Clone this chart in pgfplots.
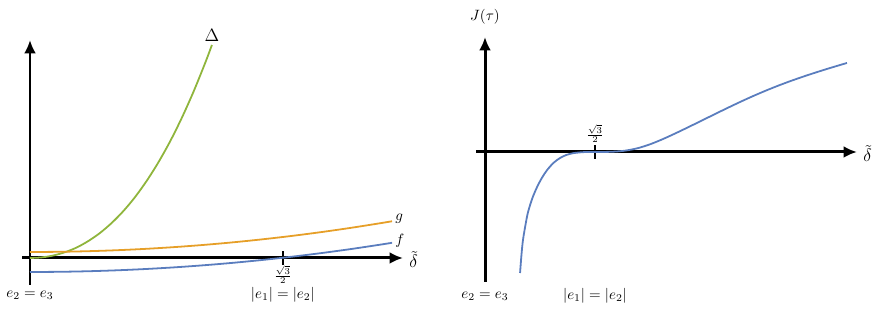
\documentclass[border=0pt]{standalone}
\usepackage{pgfplots}
\pgfplotsset{compat=1.18}
\usetikzlibrary{arrows.meta}
\definecolor{cgreen}{RGB}{143,181,60}
\definecolor{corange}{RGB}{230,159,40}
\definecolor{cblue}{RGB}{90,125,190}
\pgfplotsset{
  myaxis/.style={
    scale only axis, axis lines=middle,
    axis line style={line width=2pt, -{Latex[length=9pt,width=8pt]}},
    xtick={0.866}, xticklabels={}, ytick=\empty,
    major tick length=9pt,
    tick style={line width=1.6pt, black},
    clip=false,
    xlabel={\large$\tilde{\delta}$},
    xlabel style={anchor=west, inner sep=2pt, xshift=2pt, yshift=-1pt},
  },
}
\begin{document}
\begin{tikzpicture}
\path (0pt,0pt) rectangle (594.96pt,215.74pt);
% left panel
\begin{axis}[myaxis, at={(14.74pt,24.79pt)}, anchor=south west,
  width=255.27pt, height=164.15pt,
  xmin=-0.0274, xmax=1.2774, ymin=-0.27, ymax=2.18]
\addplot[cgreen, line width=1.2pt, smooth] coordinates {
(0,0) (0.04,0.006) (0.08,0.025) (0.12,0.058) (0.16,0.105) (0.20,0.170) (0.24,0.251)
(0.28,0.351) (0.32,0.470) (0.36,0.610) (0.40,0.773) (0.44,0.958) (0.48,1.167)
(0.52,1.402) (0.56,1.663) (0.60,1.951) (0.623,2.130)};
\addplot[corange, line width=1.2pt, smooth] coordinates {
(0,0.06) (0.1,0.062) (0.2,0.068) (0.3,0.078) (0.4,0.092) (0.5,0.11) (0.6,0.132) (0.7,0.158)
(0.8,0.188) (0.9,0.222) (1.0,0.26) (1.1,0.302) (1.2,0.348) (1.24,0.3675)};
\addplot[cblue, line width=1.2pt, smooth] coordinates {
(0,-0.14) (0.1,-0.1381) (0.2,-0.1324) (0.3,-0.1229) (0.4,-0.1096) (0.5,-0.0925) (0.6,-0.0716)
(0.7,-0.0469) (0.8,-0.0184) (0.9,0.0139) (1.0,0.05) (1.1,0.0899) (1.2,0.1336) (1.24,0.1521)};
\node[anchor=south, inner sep=1pt] at (axis cs:0.623,2.15) {\large$\Delta$};
\node[anchor=west, inner sep=2pt] at (axis cs:1.24,0.39) {$g$};
\node[anchor=west, inner sep=2pt] at (axis cs:1.24,0.17) {$f$};
\node at (axis cs:0.866,-0.17) {\footnotesize$\frac{\sqrt{3}}{2}$};
\node at (axis cs:0.866,-0.37) {$|e_1|=|e_2|$};
\node at (axis cs:0,-0.37) {$e_2=e_3$};
\end{axis}
% right panel
\begin{axis}[myaxis, at={(318.92pt,26.8pt)}, anchor=south west,
  width=255.27pt, height=164.15pt,
  xmin=-0.0709, xmax=2.929, ymin=-1.30, ymax=1.15,
  ylabel={$J(\tau)$}, ylabel style={anchor=south, yshift=5pt}]
\addplot[cblue, line width=1.2pt, smooth] coordinates {
(0.276,-1.21) (0.287,-1.03) (0.299,-0.88) (0.32,-0.72) (0.339,-0.60) (0.372,-0.465) (0.409,-0.353)
(0.448,-0.259) (0.488,-0.182) (0.54,-0.108) (0.591,-0.06) (0.64,-0.03) (0.693,-0.012) (0.74,-0.005)
(0.78,-0.001) (0.866,0) (0.9,0.0001) (1.0,0.0025) (1.1,0.0128) (1.2,0.0373) (1.3,0.0773) (1.4,0.1288)
(1.5,0.1868) (1.6,0.2478) (1.7,0.3101) (1.8,0.3726) (1.9,0.4346) (2.0,0.4951) (2.1,0.5531) (2.2,0.6078)
(2.3,0.6591) (2.4,0.7068) (2.5,0.7513) (2.6,0.7933) (2.7,0.8333) (2.8,0.8716) (2.85,0.8902)};
\node at (axis cs:0.866,0.18) {\footnotesize$\frac{\sqrt{3}}{2}$};
\node at (axis cs:0.866,-1.44) {$|e_1|=|e_2|$};
\node at (axis cs:0,-1.44) {$e_2=e_3$};
\end{axis}
\end{tikzpicture}
\end{document}
